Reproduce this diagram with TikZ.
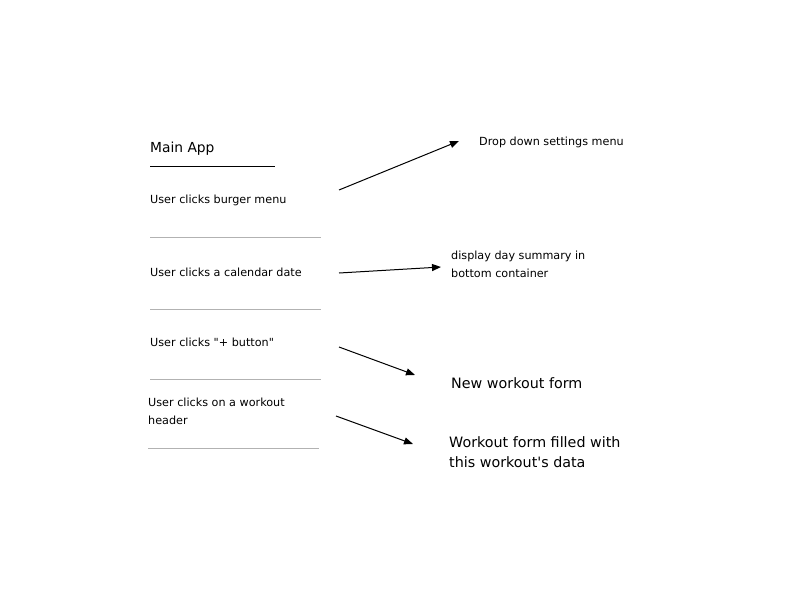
\documentclass[tikz,border=0pt]{standalone}
\usepackage{fontspec}
\setmainfont{DejaVu Sans}
\usetikzlibrary{arrows.meta}
\tikzset{
  note/.style={anchor=base west, inner sep=0pt, align=left, font=\fontsize{11.2}{17.5}\selectfont},
  bignote/.style={note, font=\fontsize{14.3}{20}\selectfont},
  divider/.style={draw=black!30, line width=1pt},
  flow/.style={-{Triangle[length=9pt,width=7pt]}, line width=1pt}
}

\begin{document}
\begin{tikzpicture}[x=1pt,y=-1pt]
  \useasboundingbox (0,0) rectangle (798,599);

  \node[note, font=\fontsize{13.8}{16}\selectfont] (mainapp) at (150,153) {Main App};
  \draw[line width=1pt] (150,167) -- (275,167);

  \node[note] (burger)   at (150,204) {User clicks burger menu};
  \draw[divider] (150,237) -- (321,237);
  \node[note] (calendar) at (150,276) {User clicks a calendar date};
  \draw[divider] (150,309) -- (321,309);
  \node[note] (plus)     at (150,346) {User clicks \textquotedbl+ button\textquotedbl};
  \draw[divider] (150,379) -- (321,379);
  \node[note] (header)   at (148,424) {User clicks on a workout\\header};
  \draw[divider] (148,448) -- (319,448);

  \node[note] (settings) at (479,146) {Drop down settings menu};
  \node[note] (summary)  at (451,277) {display day summary in\\bottom container};
  \node[bignote] (newform)  at (451,388) {New workout form};
  \node[bignote] (filled)   at (449,467) {Workout form filled with\\this workout\textquotesingle s data};

  \coordinate (burgerout)   at (339,190);
  \coordinate (settingsin)  at (459,141);
  \coordinate (calendarout) at (339,273);
  \coordinate (summaryin)   at (441,267);
  \coordinate (plusout)     at (339,347);
  \coordinate (newformin)   at (415,375);
  \coordinate (headerout)   at (336,416);
  \coordinate (filledin)    at (413,444);

  \draw[flow] (burgerout) -- (settingsin);
  \draw[flow] (calendarout) -- (summaryin);
  \draw[flow] (plusout) -- (newformin);
  \draw[flow] (headerout) -- (filledin);
\end{tikzpicture}
\end{document}
